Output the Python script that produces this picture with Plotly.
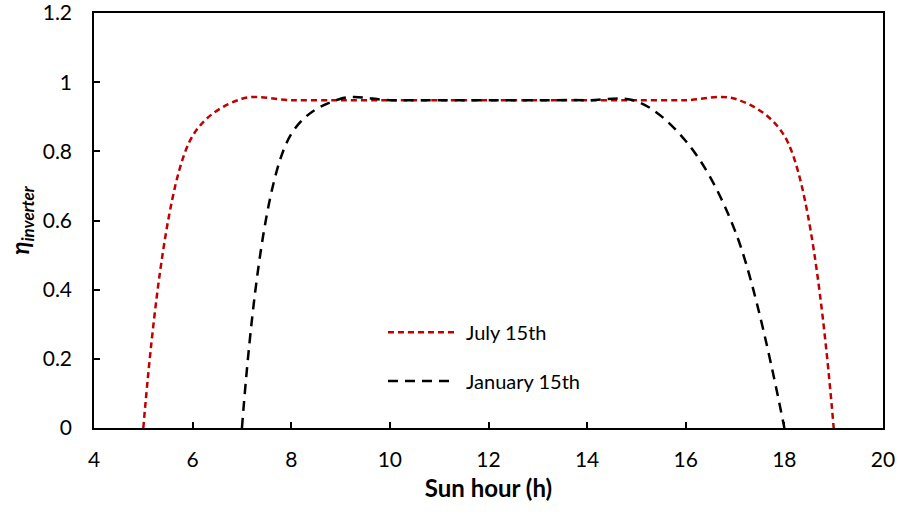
import plotly.graph_objects as go

hours_jul = [5, 6, 7, 8, 9, 10, 11, 12, 13, 14, 15, 16, 17, 18, 19]
eta_jul = [0, 0.845, 0.952, 0.948, 0.948, 0.948, 0.948, 0.948, 0.948, 0.948, 0.948, 0.948, 0.952, 0.845, 0]

hours_jan = [7, 8, 9, 10, 11, 12, 13, 14, 15, 16, 17, 18]
eta_jan = [0, 0.85, 0.952, 0.948, 0.948, 0.948, 0.948, 0.948, 0.945, 0.83, 0.57, 0]

x_ticks = [4, 6, 8, 10, 12, 14, 16, 18, 20]
y_ticks = [0, 0.2, 0.4, 0.6, 0.8, 1, 1.2]
y_tick_text = ["0", "0.2", "0.4", "0.6", "0.8", "1", "1.2"]

FONT = "Lato, 'Open Sans', sans-serif"

fig = go.Figure()
fig.add_trace(go.Scatter(x=hours_jul, y=eta_jul, mode="lines", name="July 15th",
                         line=dict(color="#C00000", width=2.5, dash="6px,4px", shape="spline", smoothing=0.95),
                         showlegend=False))
fig.add_trace(go.Scatter(x=hours_jan, y=eta_jan, mode="lines", name="January 15th",
                         line=dict(color="black", width=2.5, dash="10px,7px", shape="spline", smoothing=1.0),
                         showlegend=False))

# manual legend
legend_items = [("July 15th", "#C00000", "6px,4px", 0.231), ("January 15th", "black", "10px,7px", 0.113)]
for label, col, dash, yy in legend_items:
    fig.add_shape(type="line", xref="paper", yref="paper", x0=0.3726, x1=0.4588, y0=yy, y1=yy,
                  line=dict(color=col, width=2.5, dash=dash))
    fig.add_annotation(xref="paper", yref="paper", x=0.469, y=yy, text=label, showarrow=False,
                       xanchor="left", yanchor="middle", font=dict(size=20, color="black", family=FONT))

axis_common = dict(showgrid=False, zeroline=False, showline=True, linecolor="black", linewidth=1.5,
                   mirror=True, ticks="inside", ticklen=6, tickwidth=1.5, tickcolor="black",
                   automargin=False, ticklabeloverflow="allow",
                   tickfont=dict(size=21, color="black", family=FONT))

fig.update_xaxes(range=[4, 20], tickvals=x_ticks, ticklabelstandoff=12,
                 title=dict(text="<b>Sun hour (h)</b>", font=dict(size=24, family=FONT, color="black"), standoff=10),
                 **axis_common)
fig.update_yaxes(range=[0, 1.2001], tickvals=y_ticks, ticktext=y_tick_text, ticklabelstandoff=16,
                 title=dict(text="<b><i>η</i></b><sub><b><i>inverter</i></b></sub>", font=dict(size=24, family=FONT, color="black"), standoff=6),
                 **axis_common)

fig.update_layout(width=900, height=514, margin=dict(l=94, r=17, t=13, b=86),
                  plot_bgcolor="white", paper_bgcolor="white", font=dict(family=FONT, color="black"))

fig.write_html("out.html", config={"displayModeBar": False},
               post_script="document.body.style.margin='0';document.body.style.overflow='hidden';")
